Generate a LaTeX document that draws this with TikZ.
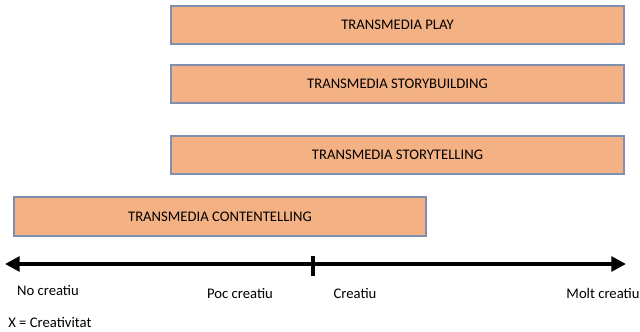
\documentclass[tikz,border=0pt]{standalone}
\usepackage{fontspec}
\setmainfont{Carlito}
\usetikzlibrary{arrows.meta}
\definecolor{boxfill}{HTML}{F4B183}
\definecolor{boxline}{HTML}{7F8FB0}

\tikzset{
	levelbox/.style={draw=boxline, fill=boxfill, line width=1pt, minimum height=28.5pt, inner sep=0pt, font=\fontsize{11}{13}\selectfont},
	scalelabel/.style={font=\fontsize{11}{13}\selectfont, inner sep=0pt}
}

\begin{document}
\begin{tikzpicture}[x=0.75pt, y=-0.75pt]
		\useasboundingbox (0,0) rectangle (640,332);
		% levels
		\node[levelbox, minimum width=339.75pt] (play) at (397.5,25) {TRANSMEDIA PLAY};
		\node[levelbox, minimum width=339.75pt] (building) at (397.5,84) {TRANSMEDIA STORYBUILDING};
		\node[levelbox, minimum width=339.75pt] (telling) at (397.5,155) {TRANSMEDIA STORYTELLING};
		\node[levelbox, minimum width=309pt, minimum height=29.25pt] (content) at (220,216.5) {TRANSMEDIA CONTENTELLING};
		% axis
		\coordinate (axisL) at (5,264);
		\coordinate (axisR) at (626,264);
		\coordinate (tickT) at (313,256);
		\coordinate (tickB) at (313,276);
		\draw[line width=3pt, {Triangle[length=11pt,width=11pt]}-{Triangle[length=11pt,width=11pt]}] (axisL) -- (axisR);
		\draw[line width=3pt] (tickT) -- (tickB);
		% scale labels
		\node[scalelabel] (none) at (48,290) {No creatiu};
		\node[scalelabel] (little) at (240,293) {Poc creatiu};
		\node[scalelabel] (creative) at (355,293) {Creatiu};
		\node[scalelabel] (very) at (603,293) {Molt creatiu};
		\node[scalelabel, anchor=west] (legend) at (8,322) {X = Creativitat};
	\end{tikzpicture}
\end{document}
